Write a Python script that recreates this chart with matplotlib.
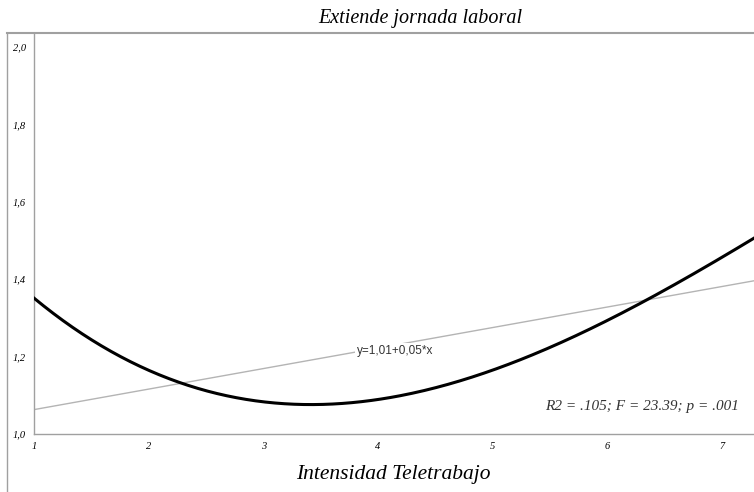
import matplotlib
matplotlib.use("Agg")
import numpy as np
import matplotlib.pyplot as plt
from matplotlib.lines import Line2D

# fitted models: linear and cubic
lin_coef = [1.01, 0.053]                          # b0, b1
cub_coef = [1.660, -0.376, 0.070, -0.00292]       # b0..b3
x_ticks = [1, 2, 3, 4, 5, 6, 7]
y_ticks = [1.0, 1.2, 1.4, 1.6, 1.8, 2.0]
stats_text = "R2 = .105; F = 23.39; p = .001"

serif = "Liberation Serif"

fig = plt.figure(figsize=(7.54, 4.92), dpi=100)
ax = fig.add_axes([34/754, 58/492, 720/754, 401/492])

x = np.linspace(1, 7.28, 300)
y_lin = lin_coef[0] + lin_coef[1]*x
y_cub = cub_coef[0] + cub_coef[1]*x + cub_coef[2]*x**2 + cub_coef[3]*x**3

ax.plot(x, y_lin, color="#b4b4b4", lw=1.0, zorder=2)
ax.plot(x, y_cub, color="black", lw=2.2, zorder=3)

eq = "y=%s+%s*x" % (f"{lin_coef[0]:.2f}".replace(".", ","),
                    f"{lin_coef[1]:.2f}".replace(".", ","))
xe = 4.15
ax.text(xe, lin_coef[0] + lin_coef[1]*xe - 0.015, eq, fontsize=8.5,
        family="Liberation Sans", color="#333333", ha="center", va="center",
        bbox=dict(facecolor="white", edgecolor="none", pad=1.5), zorder=4)

ax.text(7.15, 1.07, stats_text, fontsize=11, family=serif, style="italic",
        color="#333333", ha="right", va="center")

ax.set_xlim(1, 7.28)
ax.set_ylim(1.0, 2.036)
ax.set_xticks(x_ticks)
ax.set_yticks(y_ticks)
ax.set_xticklabels([str(t) for t in x_ticks], family=serif, style="italic", fontsize=7.5)
ax.set_yticklabels([f"{t:.1f}".replace(".", ",") for t in y_ticks],
                   family=serif, style="italic", fontsize=7.5)
ax.tick_params(length=0, pad=6)
for s in ["top", "right"]:
    ax.spines[s].set_visible(False)
for s in ["left", "bottom"]:
    ax.spines[s].set_color("#a0a0a0")
    ax.spines[s].set_linewidth(1.0)

# outer frame around the chart area
fig.add_artist(Line2D([7/754, 7/754], [0, 459/492], color="#a0a0a0", lw=1.0))
fig.add_artist(Line2D([7/754, 1], [459/492, 459/492], color="#a0a0a0", lw=1.5))

fig.text(420/754, 1 - 18/492, "Extiende jornada laboral", family=serif,
         style="italic", fontsize=14.5, ha="center", va="center")
fig.text(393/754, 1 - 475/492, "Intensidad Teletrabajo", family=serif,
         style="italic", fontsize=15.5, ha="center", va="center")

plt.savefig("out.png", dpi=100)
